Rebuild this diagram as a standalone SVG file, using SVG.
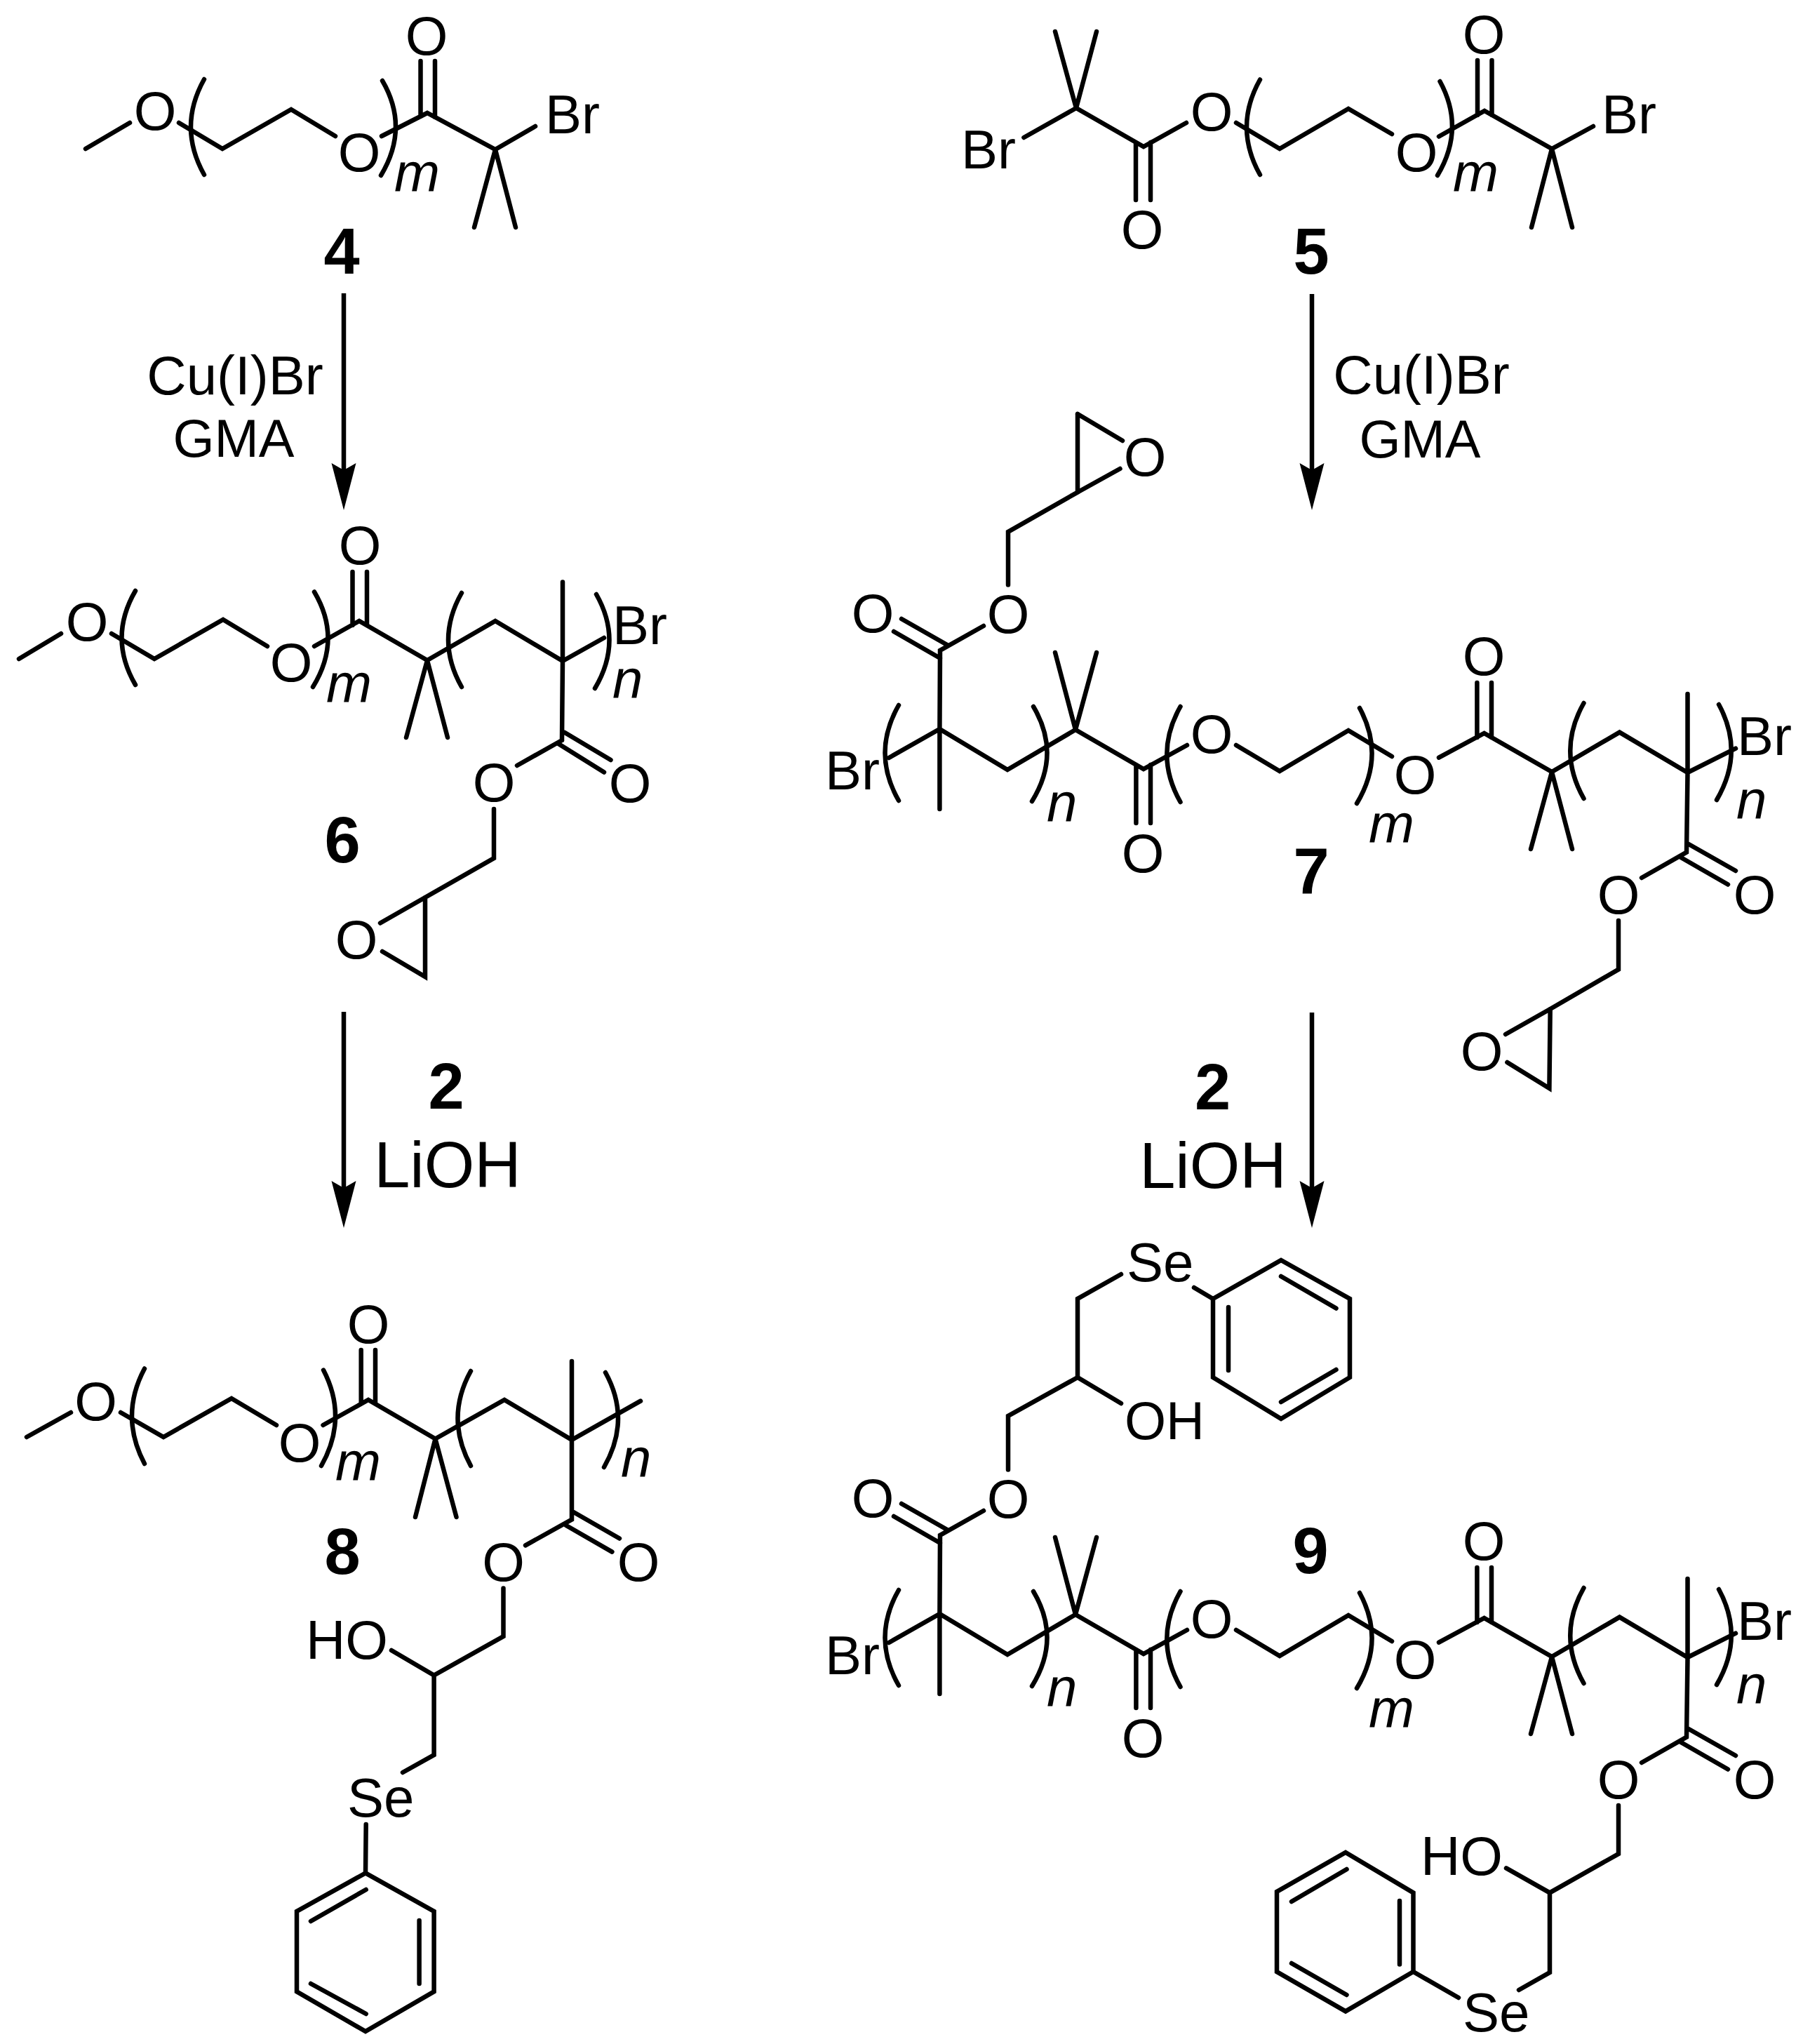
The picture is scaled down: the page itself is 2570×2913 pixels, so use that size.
<svg xmlns="http://www.w3.org/2000/svg" width="2570" height="2913" viewBox="0 0 2570 2913">
<style>
.b path{fill:none;stroke:#000;stroke-width:6.5;stroke-linecap:round;stroke-linejoin:miter}
text{font-family:"Liberation Sans",Arial,sans-serif;font-size:78px;fill:#000}
.c{text-anchor:middle}
.i{font-style:italic}
.n{font-weight:bold;font-size:92px;text-anchor:middle}
.r{font-size:92px;text-anchor:middle}
.a{stroke:#000;stroke-width:6.5;fill:none}
</style>
<defs>
<marker id="head" markerUnits="userSpaceOnUse" viewBox="0 -18 67 36" refX="10" refY="0" markerWidth="67" markerHeight="36" orient="auto"><path d="M67,0L0,-17.5L10,0L0,17.5Z" fill="#000"/></marker>
</defs>
<rect width="2570" height="2913" fill="#fff"/>
<g id="connectors">
<line class="a" x1="490" y1="418" x2="490" y2="670" marker-end="url(#head)"/>
<line class="a" x1="490" y1="1442" x2="490" y2="1693" marker-end="url(#head)"/>
<line class="a" x1="1870" y1="419" x2="1870" y2="670" marker-end="url(#head)"/>
<line class="a" x1="1870" y1="1443" x2="1870" y2="1693" marker-end="url(#head)"/>
</g>
<g id="reagents-left-1"><text class="c" x="335" y="562">Cu(I)Br</text><text class="c" x="333" y="651" style="font-size:76px">GMA</text></g>
<g id="reagents-right-1"><text class="c" x="2026" y="561">Cu(I)Br</text><text class="c" x="2024" y="652" style="font-size:76px">GMA</text></g>
<g id="reagents-left-2"><text class="n" x="636" y="1580">2</text><text class="r" x="638" y="1692">LiOH</text></g>
<g id="reagents-right-2"><text class="n" x="1728.5" y="1581">2</text><text class="r" x="1729" y="1693">LiOH</text></g>

<g id="compound-4" class="b">
<path d="M122,212L185,175M255,175L317,212L415,156L478,194M544,194L609,161L706,213L763,180M706,213L676,324M706,213L735,324M599.5,87V166M620,87V167"/>
<path d="M291,113Q253,181 291,249M545,115Q584,182 543,250"/>
<text class="c" x="221" y="185">O</text><text class="c" x="512" y="244">O</text><text class="c" x="608" y="78">O</text>
<text x="777" y="190">Br</text><text class="i" x="562" y="273">m</text><text class="n" x="487" y="390">4</text>
</g>

<g id="compound-5" class="b">
<path d="M1504,45L1534,154M1563,45L1534,154M1459.4,196L1534,154L1630,209L1691,175M1619,285V203M1640,285V203M1762,175L1824,212L1922,155L1984,191M2051,194.5L2116,158L2212,212L2271,180M2106,86V164M2126.5,86V164M2212,212L2183,324M2212,212L2241,324"/>
<path d="M1796,113.5Q1758,181 1796,249M2052.5,116Q2089,183 2049,250"/>
<text x="1370" y="240">Br</text><text class="c" x="1628" y="354">O</text><text class="c" x="1727" y="186">O</text><text class="c" x="2019" y="244">O</text><text class="c" x="2115" y="76">O</text>
<text x="2283" y="190">Br</text><text class="i" x="2071" y="273">m</text><text class="n" x="1869" y="390">5</text>
</g>

<g id="compound-6" class="b">
<path d="M27,939L87,903M159,903L220,939L318,883L381,921M448,921L512,885L609,941L579,1051M609,941L638,1051M502.5,815V891M523,815V891M609,941L706,885L802,942L861,909M802,829.5V942L801,1055M805,1044L870.5,1083M796,1060L861,1100.5M801,1055L737,1091M704,1153V1223L606,1279L542,1315.5M606,1279V1392L545,1356"/>
<path d="M193,842Q154,909 193,976M448,843.5Q488,911 446,979M658,845Q620,912 658,979M850,847Q888,914 848,981"/>
<text class="c" x="124" y="913">O</text><text class="c" x="415" y="971">O</text><text class="c" x="513" y="804">O</text><text class="c" x="898" y="1143">O</text><text class="c" x="704" y="1142">O</text><text class="c" x="508" y="1366">O</text>
<text x="873" y="918">Br</text><text class="i" x="465" y="1001">m</text><text class="i" x="873" y="995">n</text><text class="n" x="488" y="1229">6</text>
</g>

<g id="compound-7" class="b">
<path d="M1536,590V701.5L1437,758V833.5M1536,590L1600,628M1536,701.5L1596.5,668"/>
<text class="c" x="1632" y="678">O</text>
<g>
<path d="M1402,892L1340,927L1339.4,1039V1153M1285,882L1350,919M1274,900L1340,938M1267,1080L1339.4,1039L1436,1097L1533,1040L1630,1096L1692,1062M1533,1040L1504,930M1533,1040L1563,930M1619.4,1173V1090M1640,1173V1090M1762,1062L1824,1099L1922,1041L1984,1078M2051,1079.6L2115.6,1045L2212,1100L2308.5,1043.6L2405.5,1101L2474,1066.6M2212,1100L2182,1210M2212,1100L2241,1210M2105.4,973V1051M2126,973V1051M2405.5,989V1101L2404,1214.5L2340,1251M2407,1203L2474,1241M2396,1222L2463,1260.5M2307,1312"/>
<path d="M1281,1005Q1242,1073 1281,1141M1473,1007Q1513,1074.5 1471,1142M1682.5,1007Q1644,1075 1682.5,1143M1938,1009Q1975,1077 1934,1145M2257.5,1002Q2219,1070 2257.5,1138M2450,1004Q2487,1072 2447,1140"/>
<text class="c" x="1437" y="902">O</text><text class="c" x="1244" y="901">O</text><text class="c" x="1629" y="1243">O</text><text class="c" x="1727" y="1073">O</text><text class="c" x="2017" y="1131">O</text><text class="c" x="2115" y="962">O</text><text class="c" x="2501" y="1302">O</text><text class="c" x="2307" y="1302">O</text>
<text x="1176" y="1125">Br</text><text x="2476" y="1075.5">Br</text><text class="i" x="1492" y="1171">n</text><text class="i" x="1951" y="1201">m</text><text class="i" x="2475" y="1167">n</text>
</g>
<path d="M2307,1312V1381.6L2209.7,1438L2146,1474M2209.7,1438L2208.4,1551L2148.4,1514"/>
<text class="c" x="2112" y="1525">O</text>
<text class="n" x="1869" y="1273">7</text>
</g>

<g id="compound-8" class="b">
<path d="M38,2048L101,2013M172,2013L233,2048L330,1993L394,2031M460.5,2031L525,1995L620.5,2050.5L592,2162M620.5,2050.5L650.5,2162M514.7,1924V2000M535,1924V2000M620.5,2050.5L719,1995L815,2052L913,1996.6M815,1940V2165.5L749,2202.4M817.6,2155L883,2192.5M807,2174L872.4,2211.6M717.5,2263.5V2332L618.6,2387.6L558,2352M618.6,2387.6V2501L574,2526M521.7,2600L521,2669.4"/>
<path d="M521,2669.4L618.6,2724V2838.3L521,2895L423,2838.3V2724ZM521.7,2693L443,2738M597.6,2737V2827M443,2827L521.7,2870"/>
<path d="M206,1950.5Q170,2018 206,2086M461,1952.6Q496.5,2021 458,2089M671,1954Q634,2021 671,2089M863,1956Q900,2023 861,2091"/>
<text class="c" x="136.5" y="2024">O</text><text class="c" x="427" y="2083">O</text><text class="c" x="525" y="1914">O</text><text class="c" x="910" y="2253">O</text><text class="c" x="717.5" y="2253">O</text>
<text x="436" y="2364">HO</text><text x="495" y="2589">Se</text><text class="i" x="478" y="2110">m</text><text class="i" x="885" y="2105">n</text><text class="n" x="488" y="2243">8</text>
</g>

<g id="compound-9" class="b">
<path d="M1437,2094.5V2018L1536,1963L1598,2000M1536,1963V1851L1598,1816M1702,1835L1729,1851"/>
<path d="M1729,1851L1826,1796L1924,1851V1963L1826,2022L1729,1963ZM1751,1863V1953M1826,1819L1904.5,1864.5M1904.5,1952L1826,1998"/>
<text x="1603" y="2051" style="font-size:76px">OH</text><text x="1606" y="1825.6">Se</text>
<g transform="translate(0,1261)">
<path d="M1402,892L1340,927L1339.4,1039V1153M1285,882L1350,919M1274,900L1340,938M1267,1080L1339.4,1039L1436,1097L1533,1040L1630,1096L1692,1062M1533,1040L1504,930M1533,1040L1563,930M1619.4,1173V1090M1640,1173V1090M1762,1062L1824,1099L1922,1041L1984,1078M2051,1079.6L2115.6,1045L2212,1100L2308.5,1043.6L2405.5,1101L2474,1066.6M2212,1100L2182,1210M2212,1100L2241,1210M2105.4,973V1051M2126,973V1051M2405.5,989V1101L2404,1214.5L2340,1251M2407,1203L2474,1241M2396,1222L2463,1260.5"/>
<path d="M1281,1005Q1242,1073 1281,1141M1473,1007Q1513,1074.5 1471,1142M1682.5,1007Q1644,1075 1682.5,1143M1938,1009Q1975,1077 1934,1145M2257.5,1002Q2219,1070 2257.5,1138M2450,1004Q2487,1072 2447,1140"/>
<text class="c" x="1437" y="902">O</text><text class="c" x="1244" y="901">O</text><text class="c" x="1629" y="1243">O</text><text class="c" x="1727" y="1073">O</text><text class="c" x="2017" y="1131">O</text><text class="c" x="2115" y="962">O</text><text class="c" x="2501" y="1302">O</text><text class="c" x="2307" y="1302">O</text>
<text x="1176" y="1125">Br</text><text x="2476" y="1075.5">Br</text><text class="i" x="1492" y="1171">n</text><text class="i" x="1951" y="1201">m</text><text class="i" x="2475" y="1167">n</text>
</g>
<path d="M2307,2573V2642L2209,2697.4L2147,2662.4M2209,2697.4V2811L2165,2836M2079,2847L2014.5,2810"/>
<path d="M2014.5,2810V2697.4L1918,2640L1820,2696V2810L1918,2866.4ZM1995,2709V2799.5M1919.5,2664L1841,2710M1841,2798L1919.5,2843"/>
<text x="2025" y="2672">HO</text><text x="2085" y="2895">Se</text><text class="n" x="1868" y="2242">9</text>
</g>
</svg>
